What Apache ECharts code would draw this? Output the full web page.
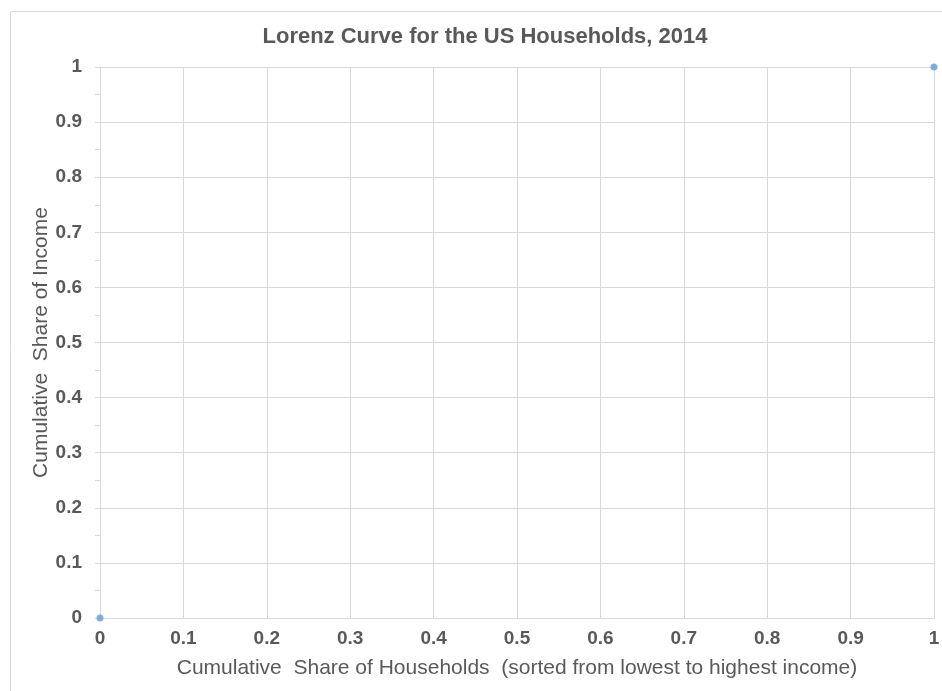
<!DOCTYPE html>
<html><head><meta charset="utf-8">
<script src="https://cdn.jsdelivr.net/npm/echarts@6/dist/echarts.min.js"></script>
<style>html,body{margin:0;padding:0;background:#fff}#c{width:942px;height:691px}</style>
</head><body><div id="c"></div>
<script>
const titleText = 'Lorenz Curve for the US Households, 2014';
const xName = 'Cumulative  Share of Households  (sorted from lowest to highest income)';
const yName = 'Cumulative  Share of Income';
const xValues = [0, 1];
const yValues = [0, 1];
const chart = echarts.init(document.getElementById('c'), null, {renderer: 'canvas'});
const font = 'Liberation Sans, Arial, sans-serif';
chart.setOption({
  animation: false,
  backgroundColor: '#fff',
  graphic: [{type: 'rect', shape: {x: 10.5, y: 11.5, width: 960, height: 700}, style: {fill: 'none', stroke: '#d9d9d9', lineWidth: 1}, silent: true, z: -1}],
  title: {text: titleText, left: 480, top: 21, textAlign: 'center',
    textStyle: {fontFamily: font, fontSize: 22, fontWeight: 'bold', color: '#595959'}},
  grid: {left: 100, right: 8, top: 67, bottom: 73, containLabel: false, outerBoundsMode: 'none'},
  xAxis: {type: 'value', min: 0, max: 1, interval: 0.1,
    name: xName, nameLocation: 'middle', nameGap: 40,
    nameTextStyle: {fontFamily: font, fontSize: 21, color: '#595959'},
    axisLine: {show: true, lineStyle: {color: '#d9d9d9', width: 1}},
    axisTick: {show: false},
    axisLabel: {fontFamily: font, fontSize: 19, fontWeight: 'bold', color: '#595959', margin: 11, showMaxLabel: true, showMinLabel: true},
    splitLine: {show: true, lineStyle: {color: '#d9d9d9', width: 1}}},
  yAxis: {type: 'value', min: 0, max: 1, interval: 0.1,
    name: yName, nameLocation: 'middle', nameGap: 48, nameMoveOverlap: false,
    nameTextStyle: {fontFamily: font, fontSize: 21, color: '#595959'},
    axisLine: {show: true, lineStyle: {color: '#d9d9d9', width: 1}},
    axisTick: {show: true, inside: false, length: 5, lineStyle: {color: '#d9d9d9'}},
    minorTick: {show: true, splitNumber: 2, length: 5, lineStyle: {color: '#d9d9d9'}},
    axisLabel: {fontFamily: font, fontSize: 19, fontWeight: 'bold', color: '#595959', margin: 18},
    splitLine: {show: true, lineStyle: {color: '#d9d9d9', width: 1}}},
  series: [{type: 'scatter', data: xValues.map((x, i) => [x, yValues[i]]),
    symbol: 'circle', symbolSize: 7, itemStyle: {color: '#5b9bd5'}, clip: false}]
});
</script></body></html>
